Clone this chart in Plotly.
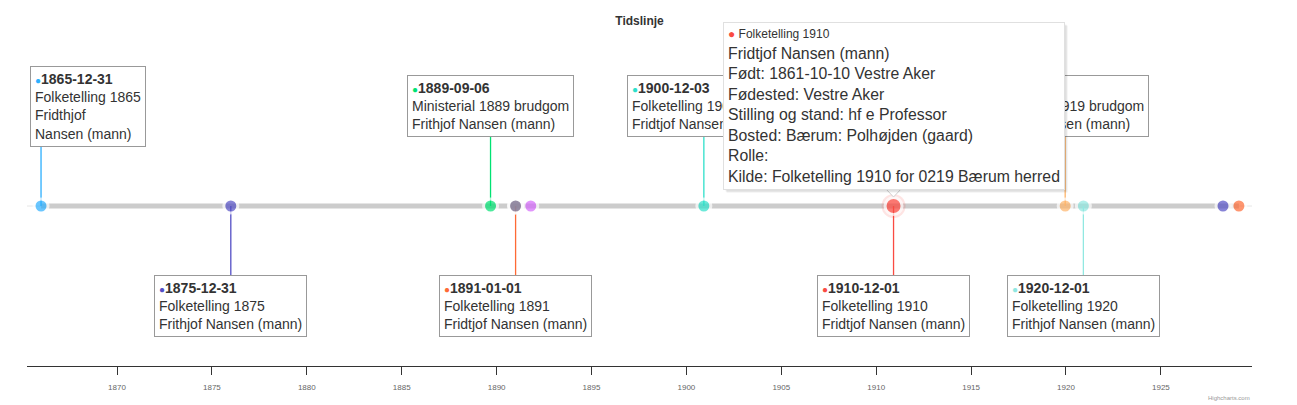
import plotly.graph_objects as go

# Events on the timeline (Highcharts-style timeline, colour per point)
event_dates = ["1865-12-31", "1875-12-31", "1889-09-06", "1891-01-01", "1891-01-01", "1891-10-20",
               "1900-12-03", "1910-12-01", "1919-12-17", "1920-12-01", "1928-04-10", "1929-02-10"]
event_sources = ["Folketelling 1865", "Folketelling 1875", "Ministerial 1889 brudgom", "Folketelling 1891",
                 None, None, "Folketelling 1900", "Folketelling 1910", "Ministerial 1919 brudgom",
                 "Folketelling 1920", None, None]
event_persons = ["Fridthjof<br>Nansen (mann)", "Frithjof Nansen (mann)", "Frithjof Nansen (mann)",
                 "Fridtjof Nansen (mann)", None, None, "Fridtjof Nansen (mann)", "Fridtjof Nansen (mann)",
                 "Fridtjof Nansen (mann)", "Frithjof Nansen (mann)", None, None]
event_sides = [1, -1, 1, -1, 0, 0, 1, -1, 1, -1, 0, 0]
event_colors = ["#2caffe", "#544fc5", "#00e272", "#fe6a35", "#6b8abc", "#d568fb",
                "#2ee0ca", "#fa4b42", "#feb56a", "#91e8e1", "#544fc5", "#fe6a35"]

tick_years = ["1870", "1875", "1880", "1885", "1890", "1895", "1900", "1905", "1910", "1915", "1920", "1925"]

# hovered point and its tooltip
hover_idx = 7
tooltip_title = "Folketelling 1910"
tooltip_lines = ["Fridtjof Nansen (mann)", "Født: 1861-10-10 Vestre Aker", "Fødested: Vestre Aker",
                 "Stilling og stand: hf e Professor", "Bosted: Bærum: Polhøjden (gaard)", "Rolle:",
                 "Kilde: Folketelling 1910 for 0219 Bærum herred"]

FONT = "Liberation Sans, Arial, sans-serif"
LABEL_DIST = 100

fig = go.Figure()

# thick grey line between first and last event
fig.add_trace(go.Scatter(x=[event_dates[0], event_dates[-1]], y=[0, 0], mode="lines",
                         line=dict(color="#cccccc", width=5), hoverinfo="skip"))

# connectors to data labels
for d, side, c in zip(event_dates, event_sides, event_colors):
    if side == 0:
        continue
    fig.add_trace(go.Scatter(x=[d, d], y=[0, side * LABEL_DIST], mode="lines",
                             line=dict(color=c, width=1.3), hoverinfo="skip"))

# hover halo
fig.add_trace(go.Scatter(x=[event_dates[hover_idx]], y=[0], mode="markers",
                         marker=dict(size=24, color="rgba(250,75,66,0.15)"), hoverinfo="skip"))

# points
sizes = [14] * len(event_dates)
sizes[hover_idx] = 17
fig.add_trace(go.Scatter(x=event_dates, y=[0] * len(event_dates), mode="markers",
                         marker=dict(size=sizes, color=event_colors, line=dict(color="white", width=3)),
                         hoverinfo="skip"))

# data labels
for i, (d, src, per, side, c) in enumerate(zip(event_dates, event_sources, event_persons,
                                                event_sides, event_colors)):
    if side == 0:
        continue
    txt = (f"<span style='color:{c};font-size:10px'>●</span><b>{d}</b><br>{src}<br>{per}")
    fig.add_annotation(x=d, y=side * LABEL_DIST, text=txt, showarrow=False, align="left",
                       xanchor="left" if i == 0 else "center", xshift=-11 if i == 0 else 0,
                       yanchor="middle", bgcolor="white", bordercolor="#999999", borderwidth=1,
                       borderpad=4, font=dict(family=FONT, size=14, color="#333333"))

# tooltip (shadow, then box)
tip = (f"<span style='font-size:12px'><span style='color:{event_colors[hover_idx]}'>●</span> "
       f"{tooltip_title}</span><br>" + "<br>".join(tooltip_lines))
for k, (bg, fc, sh) in enumerate([("rgba(0,0,0,0.07)", "rgba(0,0,0,0)", 3),
                                   ("rgba(0,0,0,0.06)", "rgba(0,0,0,0)", 2),
                                   ("white", "#333333", 0)]):
    fig.add_annotation(x=event_dates[hover_idx], y=0, text=tip, showarrow=False, align="left",
                       xanchor="center", yanchor="bottom", yshift=16 - sh, xshift=sh,
                       bgcolor=bg, bordercolor="#e0e0e0" if k == 2 else "rgba(0,0,0,0)",
                       borderwidth=1, borderpad=4, font=dict(family=FONT, size=15.8, color=fc))

# tooltip pointer
fig.add_shape(type="path", xref="x", yref="y", xsizemode="pixel", ysizemode="pixel",
              xanchor=event_dates[hover_idx], yanchor=0, path="M -8,17.5 L 0,9 L 8,17.5",
              fillcolor="white", line=dict(color="#d0d0d0", width=1), layer="above")

# thin line across the full axis
fig.add_shape(type="line", xref="paper", yref="y", x0=0, x1=1, y0=0, y1=0,
              line=dict(color="#e6e6e6", width=1), layer="below")

fig.add_annotation(text="Highcharts.com", xref="paper", yref="paper", x=1, y=0, yshift=-32,
                   xanchor="right", yanchor="middle", showarrow=False,
                   font=dict(family=FONT, size=6, color="#999999"))

fig.update_layout(
    width=1297, height=405,
    margin=dict(l=27, r=45, t=40, b=39),
    paper_bgcolor="white", plot_bgcolor="white",
    showlegend=False,
    title=dict(text="<b>Tidslinje</b>", x=0.5, xanchor="center", xref="paper", y=1 - 21 / 405,
               yanchor="middle", yref="container", font=dict(family=FONT, size=12, color="#333333")),
    xaxis=dict(type="date", range=["1865-04-05", "1929-10-20"], tickvals=[f"{y}-01-01" for y in tick_years],
               ticktext=tick_years, showgrid=False, zeroline=False, showline=True, linecolor="#333333",
               linewidth=1, ticks="outside", ticklen=8, tickcolor="#333333", ticklabelstandoff=5,
               tickfont=dict(family=FONT, size=8, color="#666666")),
    yaxis=dict(range=[-160, 166], visible=False, fixedrange=True),
)

fig.write_html("out.html", config={"displayModeBar": False},
               post_script="document.body.style.margin='0';")
